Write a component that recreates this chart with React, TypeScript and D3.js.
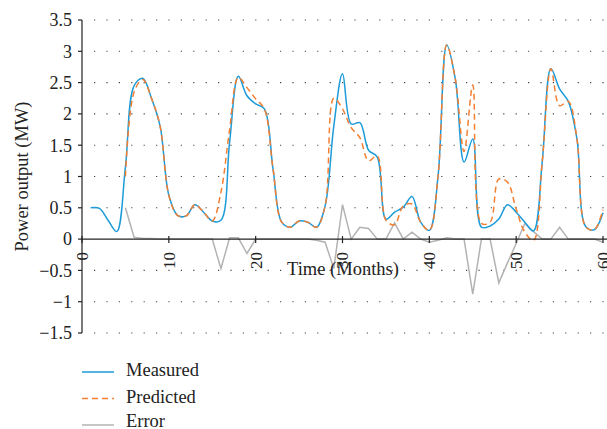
import * as d3 from 'd3';

const months = [
  1, 2, 3, 4, 5, 6, 7, 8, 9, 10, 11, 12, 13, 14, 15, 16, 17, 18, 19, 20,
  21, 22, 23, 24, 25, 26, 27, 28, 29, 30, 31, 32, 33, 34, 35, 36, 37, 38, 39, 40,
  41, 42, 43, 44, 45, 46, 47, 48, 49, 50, 51, 52, 53, 54, 55, 56, 57, 58, 59, 60,
];

const measured = [
  0.5, 0.49, 0.3, 0.12, 1.15, 2.45, 2.57, 2.25, 1.8, 0.7,
  0.38, 0.37, 0.55, 0.43, 0.29, 0.3, 1.55, 2.6, 2.29, 2.16,
  2.08, 1.12, 0.27, 0.19, 0.29, 0.27, 0.19, 0.53, 1.81, 2.64,
  1.84, 1.86, 1.42, 1.31, 0.32, 0.43, 0.51, 0.68, 0.27, 0.14,
  1.0, 3.1, 2.55, 1.23, 1.6, 0.19, 0.21, 0.32, 0.55, 0.43,
  0.27, 0.13, 1.23, 2.72, 2.4, 2.2, 1.6, 0.2, 0.15, 0.42,
];

const predicted = [
  null, null, null, null, 1.0, 2.35, 2.55, 2.25, 1.8, 0.7,
  0.38, 0.37, 0.55, 0.43, 0.29, 0.75, 1.75, 2.58, 2.42, 2.24,
  2.08, 1.12, 0.27, 0.19, 0.29, 0.27, 0.19, 0.53, 2.25, 2.08,
  1.78, 1.62, 1.25, 1.33, 0.3, 0.23, 0.53, 0.56, 0.27, 0.14,
  1.0, 3.1, 2.55, 1.4, 2.46, 0.25, 0.27, 0.96, 0.91, 0.48,
  0.11, -0.02, 1.23, 2.72, 2.13, 2.2, 1.6, 0.2, 0.15, 0.47,
];

const errorVals = [
  null, null, null, null, 0.5, 0.03, 0.01, 0.01, 0, 0,
  0, 0, 0, 0, 0, -0.47, 0.02, 0.02, -0.23, 0,
  0, 0, 0, 0, 0, 0, -0.02, -0.05, -0.47, 0.55,
  0, 0.19, 0.17, 0, 0, 0.26, 0, 0.11, 0, -0.05,
  -0.02, 0.02, 0, 0, -0.88, 0, 0, -0.7, -0.38, -0.07,
  0.25, 0.12, 0, 0, 0.19, 0, 0, 0, 0, -0.05,
];

const yTicks = [-1.5, -1, -0.5, 0, 0.5, 1, 1.5, 2, 2.5, 3, 3.5];
const xTicks = [0, 10, 20, 30, 40, 50, 60];

const seriesInfo = [
  { name: 'Measured', values: measured, color: '#1c9bd8', dash: null, curve: d3.curveCatmullRom },
  { name: 'Predicted', values: predicted, color: '#f37f32', dash: '6,4', curve: d3.curveCatmullRom },
  { name: 'Error', values: errorVals, color: '#b3b3b3', dash: null, curve: d3.curveLinear },
];

const W = 607;
const H = 429;
const font = '"Liberation Serif", "Times New Roman", serif';

const fmt = (v: number) => (v < 0 ? '\u2212' + String(-v) : String(v));

export default function App() {
  const x = d3.scaleLinear().domain([0, 60]).range([82, 603]);
  const y = d3.scaleLinear().domain([-1.5, 3.5]).range([333, 20]);

  const makeLine = (vals: (number | null)[], curve: d3.CurveFactory) =>
    d3.line<number>()
      .defined(i => vals[i] !== null)
      .x(i => x(months[i]))
      .y(i => y(vals[i] as number))
      .curve(curve)(months.map((_, i) => i)) || '';

  // draw error first, then measured, predicted on top
  const order = [seriesInfo[2], seriesInfo[0], seriesInfo[1]];

  return (
    <div style={{ position: 'fixed', left: 0, top: 0 }}>
      <svg width={W} height={H} style={{ display: 'block', background: '#fff' }} fontFamily={font}>
        {/* dotted gridlines */}
        {yTicks.filter(t => t !== 0).map(t => (
          <line key={'g' + t} x1={x(0) + 12} x2={W} y1={y(t)} y2={y(t)}
            stroke="#444" strokeWidth={1.1} strokeDasharray="1.2,11.2" />
        ))}

        {/* y axis */}
        <line x1={x(0)} x2={x(0)} y1={y(3.5)} y2={y(-1.5)} stroke="#222" strokeWidth={1.2} />
        {yTicks.map(t => (
          <g key={'y' + t}>
            <line x1={x(0) - 4} x2={x(0)} y1={y(t)} y2={y(t)} stroke="#222" strokeWidth={1.2} />
            <text x={x(0) - 10} y={y(t)} dy="0.35em" textAnchor="end" fontSize={18} fill="#222">{fmt(t)}</text>
          </g>
        ))}

        {/* series */}
        {order.map(s => (
          <path key={s.name} d={makeLine(s.values, s.curve)} fill="none" stroke={s.color}
            strokeWidth={1.5} strokeDasharray={s.dash || undefined} />
        ))}

        {/* x axis */}
        <line x1={x(0)} x2={W} y1={y(0)} y2={y(0)} stroke="#222" strokeWidth={1.2} />
        {xTicks.map(t => (
          <g key={'x' + t}>
            <line x1={x(t)} x2={x(t)} y1={y(0) - 3} y2={y(0) + 4} stroke="#222" strokeWidth={1.2} />
            <text transform={`translate(${x(t)},${y(0) + 13}) rotate(-90)`} dy="0.35em"
              textAnchor="end" fontSize={17} fill="#222">{t}</text>
          </g>
        ))}

        {/* axis titles */}
        <text x={343} y={275} textAnchor="middle" fontSize={18.5} fill="#222">Time (Months)</text>
        <text transform={`translate(22,${y(1)}) rotate(-90)`} dy="0.35em" textAnchor="middle"
          fontSize={18.5} fill="#222">Power output (MW)</text>

        {/* legend */}
        {seriesInfo.map((s, i) => (
          <g key={'l' + s.name} transform={`translate(82,${372 + i * 26.5})`}>
            <line x1={0} x2={32} y1={0} y2={0} stroke={s.color} strokeWidth={1.5}
              strokeDasharray={s.dash || undefined} />
            <text x={44} y={0} dy={i === 2 ? 2 : 4} fontSize={18.5} fill="#222">{s.name}</text>
          </g>
        ))}
      </svg>
    </div>
  );
}
